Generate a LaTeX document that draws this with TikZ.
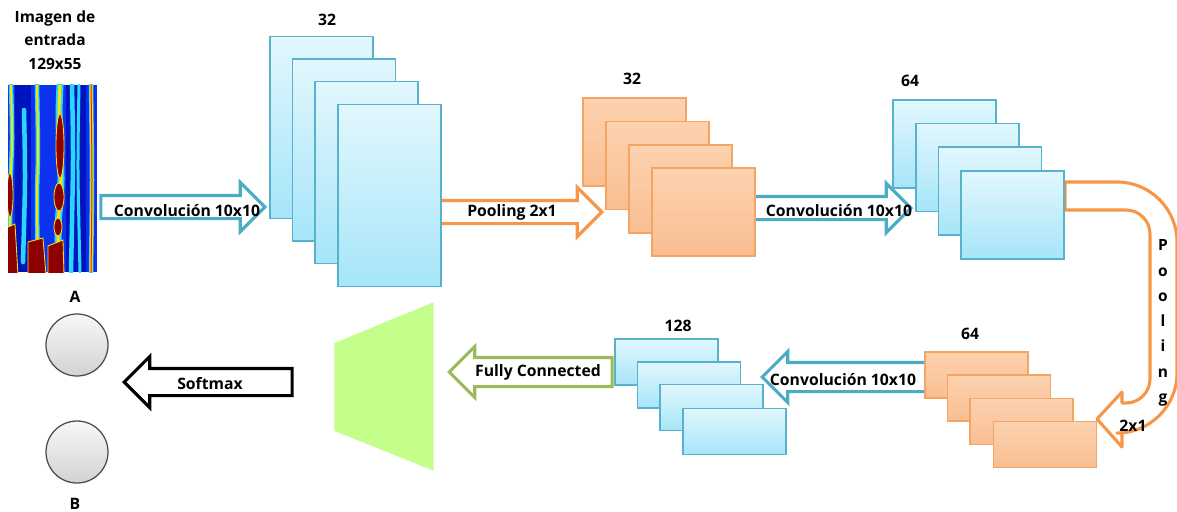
\documentclass[tikz,border=0pt]{standalone}
\usepackage{fontspec}
\setmainfont{Open Sans}
\usetikzlibrary{shapes.arrows, shadows}
\definecolor{mapbluetop}{RGB}{226,247,253}
\definecolor{mapbluebot}{RGB}{166,229,249}
\definecolor{mapblueline}{RGB}{88,178,204}
\definecolor{maporangetop}{RGB}{252,210,176}
\definecolor{maporangebot}{RGB}{249,190,145}
\definecolor{maporangeline}{RGB}{244,165,100}
\definecolor{convblue}{RGB}{75,172,198}
\definecolor{poolorange}{RGB}{247,150,70}
\definecolor{fcgreen}{RGB}{155,187,89}
\definecolor{fcfill}{RGB}{196,255,140}
\definecolor{jetblue}{RGB}{12,50,240}
\definecolor{jetdark}{RGB}{0,20,190}
\definecolor{jetcyan}{RGB}{40,215,255}
\definecolor{jetyellow}{RGB}{255,225,0}
\definecolor{jetred}{RGB}{235,25,0}
\definecolor{jetdarkred}{RGB}{140,0,0}
\newcommand{\unitpx}{0.025cm}
\tikzset{
  lbl/.style={font=\bfseries\fontsize{11.2}{13}\selectfont, inner sep=0pt},
  mapshadow/.style={drop shadow={opacity=0.25, shadow xshift=0.6pt, shadow yshift=-0.6pt}},
  bluemap/.style={draw=mapblueline, line width=0.8pt, top color=mapbluetop, bottom color=mapbluebot, inner sep=0pt, mapshadow},
  orangemap/.style={draw=maporangeline, line width=0.8pt, top color=maporangetop, bottom color=maporangebot, inner sep=0pt, mapshadow},
  tallmap/.style={minimum width=103*\unitpx, minimum height=182*\unitpx},
  midmap/.style={minimum width=103*\unitpx, minimum height=88*\unitpx},
  flatmap/.style={minimum width=103*\unitpx, minimum height=46*\unitpx},
  blockarrow/.style={single arrow, fill=white, line width=2.2pt, inner xsep=0pt, inner ysep=10*\unitpx,
    text height=0pt, text depth=0pt, minimum width=46*\unitpx, single arrow head extend=13*\unitpx,
    single arrow tip angle=90, anchor=tip},
  backarrow/.style={blockarrow, shape border rotate=180},
  halo/.style={jetcyan, line width=4.5*\unitpx, line cap=round},
  hotline/.style={jetyellow, line width=2*\unitpx},
  blob/.style={fill=jetdarkred, draw=jetyellow, line width=0.6pt},
  neuron/.style={circle, draw=black!70, line width=0.9pt, top color=gray!6, bottom color=gray!35,
    minimum size=62*\unitpx, inner sep=0pt}
}
\begin{document}
\begin{tikzpicture}[x=\unitpx, y=-\unitpx]
  \useasboundingbox (0,0) rectangle (1177,512);

  % input spectrogram
  \node [lbl, align=center, font=\bfseries\fontsize{11}{16.7}\selectfont] (Title) at (55,40) {Imagen de\\entrada\\129x55};
  \begin{scope}
    \clip (8,85) rectangle (97,272);
    \fill [jetblue] (8,85) rectangle (97,272);
    \fill [jetdark] (15,85) rectangle (31,272);
    \fill [jetdark] (66,85) rectangle (86,272);
    \draw [halo] plot [smooth] coordinates {(24,110) (25,180) (23,262)};
    \draw [halo] plot [smooth] coordinates {(72,85) (73,160) (71,272)};
    \draw [halo, line width=3*\unitpx] plot [smooth] coordinates {(79,85) (78,170) (80,272)};
    \draw [halo] plot [smooth] coordinates {(11,85) (12,140) (10,200) (11,272)};
    \draw [hotline] plot [smooth] coordinates {(11,85) (12,140) (10,200) (11,272)};
    \draw [halo] plot [smooth] coordinates {(37,85) (38,150) (37,200) (38,272)};
    \draw [hotline] plot [smooth] coordinates {(37,85) (38,150) (37,200) (38,272)};
    \draw [halo, line width=7*\unitpx] plot [smooth] coordinates {(60,85) (59,120) (61,180) (58,230) (60,272)};
    \draw [hotline, line width=3*\unitpx] plot [smooth] coordinates {(60,85) (59,120) (61,180) (58,230) (60,272)};
    \draw [halo] plot [smooth] coordinates {(91,85) (92,180) (91,272)};
    \draw [hotline, line width=3*\unitpx] plot [smooth] coordinates {(91,85) (92,180) (91,272)};
    \draw [jetred, line width=1*\unitpx] plot [smooth] coordinates {(91,85) (92,180) (91,272)};
    \draw [blob] (60,146) ellipse [x radius=4, y radius=32];
    \draw [blob] (59,197) ellipse [x radius=5, y radius=14];
    \draw [blob] (58,227) ellipse [x radius=4, y radius=9];
    \draw [blob] (10,195) ellipse [x radius=3, y radius=22];
    \draw [blob] (6,228) -- (15,224) -- (18,275) -- (6,275) -- cycle;
    \draw [blob] (28,242) -- (43,238) -- (46,275) -- (28,275) -- cycle;
    \draw [blob] (48,246) -- (63,240) -- (64,275) -- (48,275) -- cycle;
  \end{scope}

  % block arrows
  \node [blockarrow, draw=convblue, minimum height=164*\unitpx] (A1) at (267,207) {};
  \node [blockarrow, draw=poolorange, minimum height=162*\unitpx] (A2) at (604,212) {};
  \node [blockarrow, draw=convblue, minimum height=158*\unitpx] (A3) at (913,208) {};
  \node [backarrow, draw=convblue, minimum height=165*\unitpx, inner ysep=13*\unitpx,
         minimum width=50*\unitpx, single arrow head extend=11*\unitpx] (A4) at (760,377) {};
  \node [backarrow, draw=fcgreen, minimum height=163*\unitpx, inner ysep=13*\unitpx,
         minimum width=50*\unitpx, single arrow head extend=11*\unitpx] (A5) at (447,372) {};
  \node [backarrow, draw=black, minimum height=168*\unitpx, inner ysep=12*\unitpx,
         minimum width=49*\unitpx, single arrow head extend=12*\unitpx] (A6) at (122,382) {};
  \draw [draw=poolorange, fill=white, line width=2.2pt, line join=round]
    (1065,182) [rounded corners=60*\unitpx] -- (1177,182) -- (1177,433) [sharp corners] -- (1122,433)
    -- (1122,447) -- (1097,419) -- (1122,392) -- (1122,403)
    [rounded corners=24*\unitpx] -- (1150,403) -- (1150,210) [sharp corners] -- (1065,210) -- cycle;

  % feature maps
  \node [bluemap, tallmap] (C1a) at (321.5,127.5) {};
  \node [bluemap, tallmap] (C1b) at (344,150) {};
  \node [bluemap, tallmap] (C1c) at (366.5,172.5) {};
  \node [bluemap, tallmap] (C1d) at (389.5,195.5) {};

  \node [orangemap, midmap] (P1a) at (634.5,142) {};
  \node [orangemap, midmap] (P1b) at (657.5,165.5) {};
  \node [orangemap, midmap] (P1c) at (680.5,189) {};
  \node [orangemap, midmap] (P1d) at (703.5,212) {};

  \node [bluemap, midmap] (C2a) at (944.5,144) {};
  \node [bluemap, midmap] (C2b) at (967.5,167.5) {};
  \node [bluemap, midmap] (C2c) at (990,191) {};
  \node [bluemap, midmap] (C2d) at (1012.5,215) {};

  \node [orangemap, flatmap] (P2a) at (976.5,375) {};
  \node [orangemap, flatmap] (P2b) at (999,398) {};
  \node [orangemap, flatmap] (P2c) at (1021.5,421.5) {};
  \node [orangemap, flatmap] (P2d) at (1045,444.5) {};

  \node [bluemap, flatmap] (C3a) at (666.5,362) {};
  \node [bluemap, flatmap] (C3b) at (689,385) {};
  \node [bluemap, flatmap] (C3c) at (711.5,407.5) {};
  \node [bluemap, flatmap] (C3d) at (734.5,431.5) {};

  % fully connected layer and outputs
  \draw [fill=fcfill, draw=white, line width=2pt, drop shadow={opacity=0.3, shadow xshift=0.8pt, shadow yshift=-0.8pt}]
    (333,342) -- (435,300) -- (435,473) -- (333,432) -- cycle;
  \node [neuron] (OutA) at (77,345) {};
  \node [neuron] (OutB) at (77,452) {};

  % labels
  \node [lbl] (T1) at (187,211) {Convolución 10x10};
  \node [lbl] (T2) at (512,212) {Pooling 2x1};
  \node [lbl] (T3) at (839,211) {Convolución 10x10};
  \node [lbl] (T4) at (843,380) {Convolución 10x10};
  \node [lbl] (T5) at (538,372) {Fully Connected};
  \node [lbl] (T6) at (210,384) {Softmax};
  \node [lbl, align=center, font=\bfseries\fontsize{11}{18}\selectfont] (T7) at (1163,323) {P\\o\\o\\l\\i\\n\\g};
  \node [lbl] (T8) at (1133,426) {2x1};

  \node [lbl] (N1) at (327,20) {32};
  \node [lbl] (N2) at (632,79) {32};
  \node [lbl] (N3) at (910,81) {64};
  \node [lbl] (N4) at (970,334) {64};
  \node [lbl] (N5) at (678,326) {128};
  \node [lbl] (LA) at (75,297) {A};
  \node [lbl] (LB) at (75,504) {B};
\end{tikzpicture}
\end{document}
